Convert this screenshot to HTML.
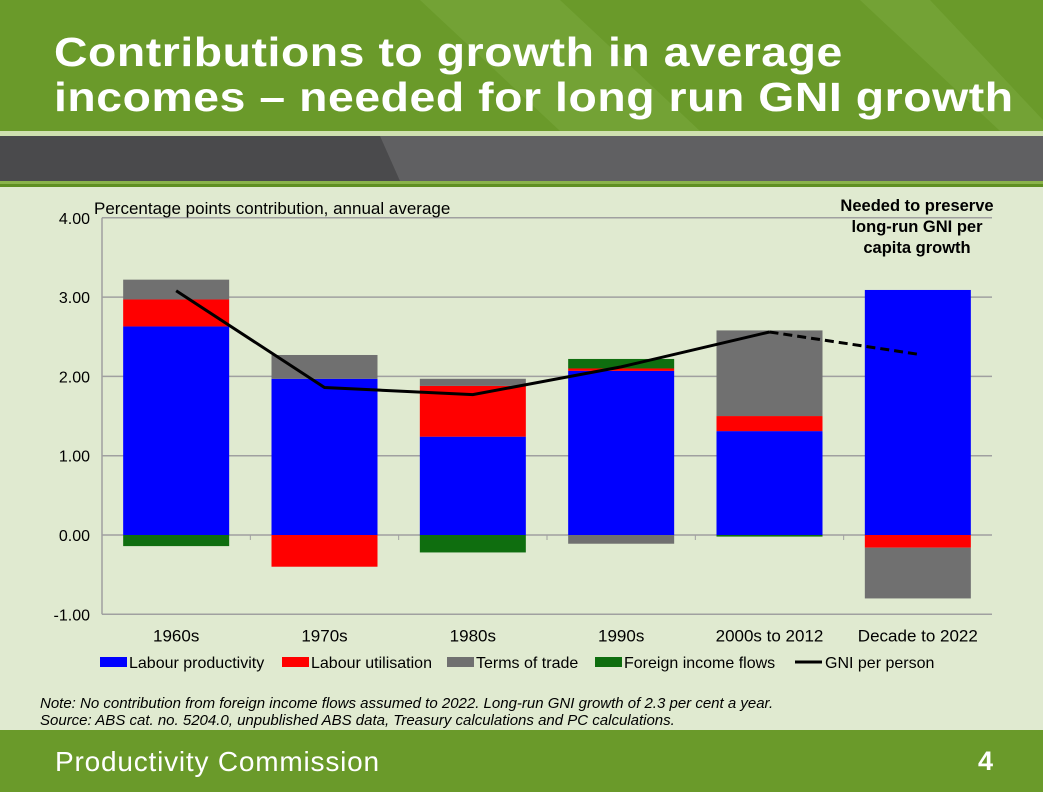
<!DOCTYPE html>
<html><head><meta charset="utf-8"><style>
body{margin:0;width:1043px;height:792px;overflow:hidden;font-family:"Liberation Sans",sans-serif;background:#e0ead0;position:relative}
.hdr{position:absolute;left:0;top:0;width:1043px;height:131px;background:#6a9a2a}
.title{position:absolute;left:54px;top:30px;color:#fff;font-weight:bold;font-size:41px;line-height:45px;letter-spacing:0.5px;transform:scaleX(1.13);transform-origin:0 0;white-space:nowrap}
.ln1{position:absolute;left:0;top:131px;width:1043px;height:5px;background:#cfe0b0}
.dark{position:absolute;left:0;top:136px;width:1043px;height:45px;background:#4a4a4c}
.ln2{position:absolute;left:0;top:181px;width:1043px;height:3px;background:#8ab34a}
.ln3{position:absolute;left:0;top:184px;width:1043px;height:3px;background:#5f8f22}
.ftr{position:absolute;left:0;top:730px;width:1043px;height:62px;background:#6a9a2a;color:#fff}
.note{position:absolute;left:40px;top:695px;font-size:15px;font-style:italic;line-height:17px;color:#000;white-space:nowrap}
</style></head><body>
<div class="hdr">
<svg width="1043" height="131" style="position:absolute;left:0;top:0"><path d="M420 0 L560 0 L700 131 L560 131 Z" fill="#7aa83e" opacity="0.6"/><path d="M860 0 L930 0 L1043 120 L1043 131 L1000 131 Z" fill="#7aa83e" opacity="0.6"/></svg>
<div class="title">Contributions to growth in average<br>incomes – needed for long run GNI growth</div></div>
<div class="ln1"></div>
<div class="dark"><svg width="1043" height="45" style="position:absolute"><path d="M380 0 L1043 0 L1043 45 L400 45 Z" fill="#606062"/></svg></div>
<div class="ln2"></div><div class="ln3"></div>
<svg id="chart" width="1043" height="500" style="position:absolute;left:0;top:190px"></svg>
<div class="note">Note: No contribution from foreign income flows assumed to 2022. Long-run GNI growth of 2.3 per cent a year.<br>Source: ABS cat. no. 5204.0, unpublished ABS data, Treasury calculations and PC calculations.</div>
<div class="ftr">
<div style="position:absolute;left:55px;top:16px;font-size:28px;letter-spacing:0.8px">Productivity Commission</div>
<div style="position:absolute;right:50px;top:16px;font-size:27px;font-weight:bold">4</div></div>
<script>
const categories=["1960s","1970s","1980s","1990s","2000s to 2012","Decade to 2022"];
const labourProductivity=[2.63,1.97,1.24,2.07,1.31,3.09];
const labourUtilisation=[0.34,-0.40,0.64,0.03,0.19,-0.16];
const termsOfTrade=[0.25,0.30,0.09,-0.11,1.08,-0.64];
const foreignIncome=[-0.14,0,-0.22,0.12,-0.02,0];
const gniPerPerson=[3.08,1.86,1.77,2.12,2.56,2.28];
const yTicks=[4,3,2,1,0,-1];
const series=[["Labour productivity",labourProductivity,"#0000ff"],["Labour utilisation",labourUtilisation,"#ff0000"],["Terms of trade",termsOfTrade,"#707070"],["Foreign income flows",foreignIncome,"#0f6e0f"]];
const svg=document.getElementById('chart');const NS="http://www.w3.org/2000/svg";
const X0=102,X1=992,OY=-190;
const y=v=>535-v*79.3+OY;
const band=(X1-X0)/categories.length;
const xc=i=>X0+band*(i+0.5);
function mk(t,a,p){const e=document.createElementNS(NS,t);for(const k in a)e.setAttribute(k,a[k]);(p||svg).appendChild(e);return e;}
yTicks.forEach(t=>{
 const g=mk('line',{x1:X0,x2:X1,y1:y(t),y2:y(t),stroke:'#a0a0a0','stroke-width':1.5});
 
 
 const l=mk('text',{x:90,y:y(t)+6,'text-anchor':'end','font-size':16,fill:'#000'});l.textContent=t.toFixed(2);
 
 
});
mk('line',{x1:X0,x2:X0,y1:y(4),y2:y(-1),stroke:'#a0a0a0','stroke-width':1.5});
categories.forEach((c,i)=>{
 let pos=0,neg=0;
 series.forEach(s=>{const v=s[1][i];if(!v)return;let a,b;
  if(v>0){a=pos;b=pos+v;pos=b;}else{a=neg;b=neg+v;neg=b;}
  const r=mk('rect',{x:xc(i)-53,width:106,y:y(Math.max(a,b)),height:Math.abs(y(a)-y(b)),fill:s[2]});
  
  });
 const t=mk('text',{x:xc(i),y:y(-1)+27,'text-anchor':'middle','font-size':17});t.textContent=c;
 
 
 if(i>0){mk('line',{x1:X0+band*i,x2:X0+band*i,y1:y(0),y2:y(0)+5,stroke:'#a0a0a0'});}
});
const n=categories.length;
let d='';for(let i=0;i<n-1;i++)d+=(i?'L':'M')+xc(i)+' '+y(gniPerPerson[i]);
const ln=mk('path',{d:d,fill:'none',stroke:'#000','stroke-width':3});


const dl=mk('line',{x1:xc(n-2),y1:y(gniPerPerson[n-2]),x2:xc(n-1),y2:y(gniPerPerson[n-1]),stroke:'#000','stroke-width':3,'stroke-dasharray':'9,5'});


const yt=mk('text',{x:94,y:24,'font-size':17});yt.textContent='Percentage points contribution, annual average';


["Needed to preserve","long-run GNI per","capita growth"].forEach((s,k)=>{const a=mk('text',{x:917,y:21+k*21,'text-anchor':'middle','font-size':16.5,'font-weight':'bold'});a.textContent=s;
 
 });
const leg=[["Labour productivity","#0000ff",100],["Labour utilisation","#ff0000",282],["Terms of trade","#707070",447],["Foreign income flows","#0f6e0f",595]];
leg.forEach(l=>{const r=mk('rect',{x:l[2],y:467,width:27,height:10,fill:l[1]});
 
 
 const t=mk('text',{x:l[2]+29,y:478,'font-size':16});t.textContent=l[0];
 
 });
mk('line',{x1:795,x2:822,y1:472,y2:472,stroke:'#000','stroke-width':3});
const gt=mk('text',{x:825,y:478,'font-size':16});gt.textContent='GNI per person';


</script>
</body></html>
